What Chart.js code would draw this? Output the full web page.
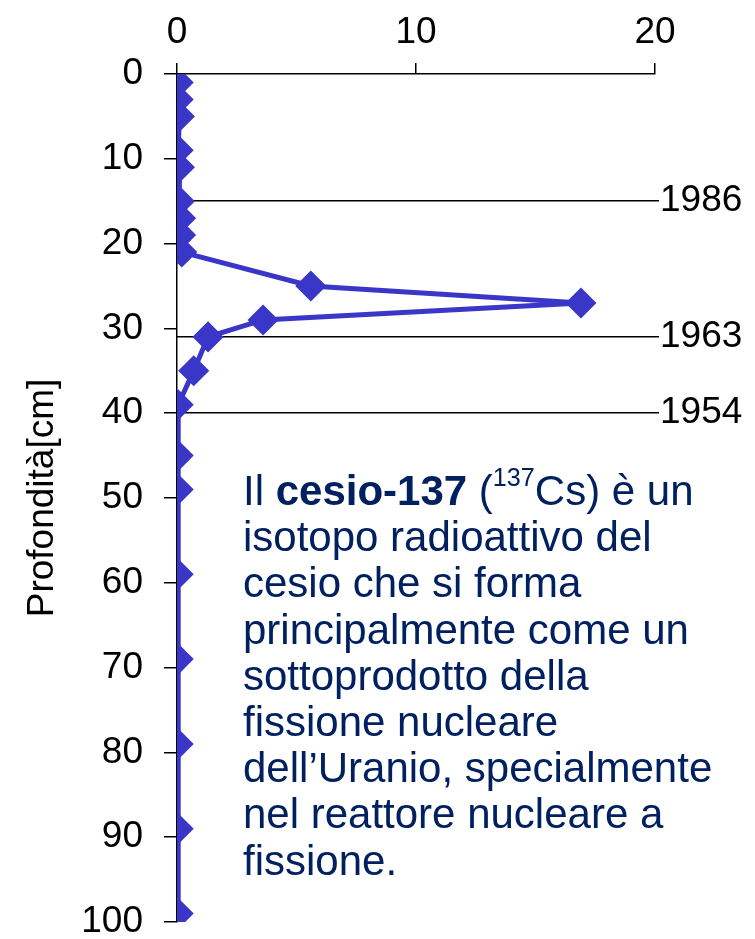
<!DOCTYPE html>
<html>
<head>
<meta charset="utf-8">
<script src="https://cdn.jsdelivr.net/npm/chart.js@4.4.1/dist/chart.umd.min.js"></script>
<style>
  html, body { margin: 0; padding: 0; background: #fff; }
  #wrap { position: relative; width: 755px; height: 939px; }
  #note {
    position: absolute; left: 243px; top: 468px; width: 512px;
    font-family: "Liberation Sans", Arial, sans-serif; font-size: 42px; line-height: 46.2px;
    color: #002060;
  }
  #note sup { font-size: 0.6em; line-height: 0; vertical-align: 0.75em; }
</style>
</head>
<body>
<div id="wrap">
  <canvas id="chart" width="755" height="939"></canvas>
  <div id="note">Il <b>cesio-137</b> (<sup>137</sup>Cs) è un<br>isotopo radioattivo del<br>cesio che si forma<br>principalmente come un<br>sottoprodotto della<br>fissione nucleare<br>dell’Uranio, specialmente<br>nel reattore nucleare a<br>fissione.</div>
</div>
<script>
// depth in cm, 137Cs activity
const depths = [1, 3, 5, 9, 11, 15, 17, 19, 21, 25, 27, 29, 31, 35, 39, 45, 49, 59, 69, 79, 89, 99];
const activity = [0.05, 0.05, 0.1, 0.05, 0.1, 0.1, 0.15, 0.15, 0.2, 5.6, 16.9, 3.6, 1.3, 0.7, 0.05, 0.05, 0.05, 0.05, 0.05, 0.05, 0.05, 0.05];
const event_depths = [15, 31, 40];
const event_years = ["1986", "1963", "1954"];
const x_ticks = [0, 10, 20];
const y_ticks = [0, 10, 20, 30, 40, 50, 60, 70, 80, 90, 100];

const points = depths.map((d, i) => ({ x: activity[i], y: d }));
const font = { family: "'Liberation Sans', Arial, sans-serif", size: 37 };

// keep the plot area bottom close to the canvas edge
const trim_padding = (axis) => { axis.paddingTop = 0; axis.paddingBottom = 16; };

const ctx = document.getElementById("chart").getContext("2d");
const cs_chart = new Chart(ctx, {
    type: "scatter",
    data: {
        datasets: [{
            data: points,
            showLine: true,
            borderColor: "#3a36c8",
            backgroundColor: "#3a36c8",
            borderWidth: 5,
            pointStyle: "rectRot",
            pointRadius: 12,
            pointHoverRadius: 12
        }]
    },
    options: {
        responsive: false,
        animation: false,
        layout: { padding: 0 },
        plugins: { legend: { display: false }, tooltip: { enabled: false } },
        scales: {
            x: {
                type: "linear",
                position: "top",
                min: 0, max: 20,
                afterBuildTicks: (axis) => { axis.ticks = x_ticks.map(v => ({ value: v })); },
                afterFit: (axis) => { axis.height = 74; },
                border: { display: true, color: "#000", width: 1.5 },
                grid: { drawOnChartArea: false, drawTicks: true, tickLength: 11, color: "#000", lineWidth: 1.5 },
                ticks: { color: "#000", font: font, padding: 8, maxRotation: 0 }
            },
            y: {
                type: "linear",
                position: "left",
                reverse: true,
                min: 0, max: 100,
                afterBuildTicks: (axis) => { axis.ticks = y_ticks.map(v => ({ value: v })); },
                afterFit: (axis) => { axis.width = 177; trim_padding(axis); },
                border: { display: true, color: "#000", width: 1.5 },
                grid: { drawOnChartArea: false, drawTicks: true, tickLength: 13, color: "#000", lineWidth: 1.5 },
                ticks: { color: "#000", font: font, padding: 21 },
                title: { display: true, text: "Profondità[cm]", color: "#000", font: font, padding: { top: 21, bottom: 0 } }
            },
            y2: {
                type: "linear",
                position: "right",
                reverse: true,
                min: 0, max: 100,
                afterBuildTicks: (axis) => { axis.ticks = event_depths.map(v => ({ value: v })); },
                afterFit: (axis) => { axis.width = 100; trim_padding(axis); },
                border: { display: false },
                grid: { drawOnChartArea: true, drawTicks: true, tickLength: 4, color: "#000", lineWidth: 1.5 },
                ticks: {
                    color: "#000", font: font, padding: 1,
                    callback: (v) => event_years[event_depths.indexOf(v)]
                }
            }
        }
    }
});
</script>
</body>
</html>
